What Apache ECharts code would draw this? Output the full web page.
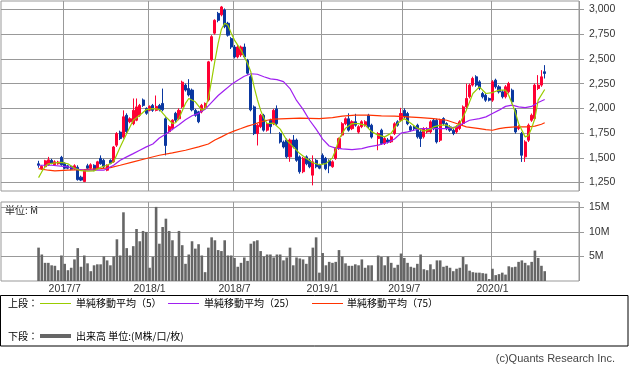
<!DOCTYPE html>
<html><head><meta charset="utf-8">
<script src="https://cdn.jsdelivr.net/npm/echarts@6/dist/echarts.min.js"></script>
<style>html,body{margin:0;padding:0;background:#fff}#c{width:633px;height:373px}</style>
</head><body><div id="c"></div>
<script>
// ---- data (weekly, first week 2017/5/8) ----
const firstWeek = [2017, 5, 8];
const padBefore = 11, padAfter = 10;
const priceTicks = [1250, 1500, 1750, 2000, 2250, 2500, 2750, 3000];
const volumeTicks = [5, 10, 15];
const open = [1440,1390,1410,1430,1475,1430,1440,1505,1445,1420,1415,1390,1405,1305,1260,1420,1395,1425,1395,1495,
1475,1375,1475,1460,1628,1760,1710,1930,1865,1845,1880,1930,2085,2000,1980,2030,1980,2030,2050,1895,
1765,1795,1950,1895,2015,2235,2200,2185,1980,1965,1965,2015,2085,2490,2760,2960,2945,2995,2860,2705,
2620,2520,2540,2620,2485,2320,2015,1745,1815,1930,1780,1880,1845,1995,1745,1660,1680,1510,1680,1680,
1510,1360,1510,1475,1325,1475,1425,1525,1495,1470,1410,1495,1595,1730,1845,1895,1795,1865,1760,1815,
1830,1930,1830,null,1695,1780,1645,1680,1662,1745,1865,1880,1980,1948,1815,1812,1830,1762,1712,1762,
1762,1880,1880,1678,1897,1847,1813,1779,1762,1796,1847,2015,2117,2235,2319,2268,2150,2133,2100,2083,
2285,2218,2167,2117,2167,2184,1982,1796,1746,1510,1678,1880,1897,2201,2235,2370];
const close = [1425,1415,1470,1480,1445,1460,1458,1430,1395,1395,1385,1420,1280,1275,1375,1395,1430,1375,1460,1440,
1410,1425,1445,1610,1745,1695,1915,1765,1895,1980,2015,2030,2030,1950,2020,1980,2020,1985,1985,1625,
1815,1880,1880,1980,2265,2185,2135,1985,1930,1865,2030,2050,2470,2725,2890,2890,3025,2825,2740,2620,
2520,2620,2620,2520,2355,1985,1745,1830,1930,1780,1845,1815,1980,1845,1660,1610,1510,1680,1610,1475,
1360,1495,1440,1410,1460,1410,1395,1445,1390,1420,1460,1595,1695,1845,1895,1780,1865,1830,1815,1865,
1865,1815,1710,null,1745,1645,1695,1660,1712,1845,1830,1948,1915,1845,1780,1795,1712,1695,1796,1796,
1864,1796,1661,1880,1847,1796,1779,1746,1813,1864,2015,2100,2235,2302,2235,2201,2117,2083,2083,2268,
2218,2167,2117,2218,2251,2066,1762,1813,1526,1661,1830,1931,2235,2235,2319,2353];
const low = [1400,1380,1400,1420,1435,1420,1430,1420,1385,1385,1375,1380,1270,1265,1255,1385,1385,1365,1385,1430,
1395,1365,1435,1450,1610,1680,1695,1750,1850,1830,1870,1915,2015,1935,1970,1965,1970,1970,1970,1525,
1750,1780,1860,1880,2000,2170,2120,1970,1915,1850,1950,2000,2070,2475,2745,2870,2930,2810,2725,2600,
2505,2505,2520,2505,2340,1970,1730,1625,1800,1765,1765,1745,1830,1830,1645,1595,1495,1460,1595,1460,
1340,1345,1425,1395,1222,1395,1385,1430,1375,1345,1400,1480,1580,1715,1830,1765,1780,1815,1745,1800,
1815,1800,1695,null,1577,1630,1630,1645,1650,1730,1815,1865,1900,1830,1765,1780,1695,1610,1695,1745,
1745,1780,1645,1660,1830,1780,1762,1729,1746,1780,1830,2000,2100,2220,2218,2184,2100,2066,2070,2066,
2200,2150,2100,2100,2150,2049,1745,1780,1459,1459,1660,1864,1880,2185,2218,2302];
const high = [1470,1425,1480,1510,1490,1475,1470,1520,1455,1430,1425,1435,1425,1320,1385,1440,1445,1435,1470,1525,
1490,1435,1485,1620,1760,1775,1980,1950,1910,2100,2100,2045,2100,2010,2030,2045,2130,2045,2200,1910,
1830,1890,1965,2000,2280,2250,2295,2200,1995,1975,2045,2060,2480,2740,2900,2975,3035,3010,2875,2720,
2640,2640,2635,2655,2500,2335,2030,1845,1945,1945,1860,1895,1995,2030,1760,1675,1695,1695,1730,1695,
1525,1510,1525,1490,1525,1490,1440,1545,1510,1485,1475,1610,1705,1860,1910,1950,1880,1945,1830,1880,
1880,1945,1845,null,1760,1795,1710,1700,1725,1860,1880,2005,2000,1965,1830,1830,1845,1780,1810,1810,
1880,1895,1895,1895,1910,1860,1830,1795,1830,1880,2030,2250,2250,2320,2335,2285,2167,2150,2110,2285,
2300,2235,2184,2235,2268,2200,2000,1830,1762,1678,1847,1948,2251,2336,2386,2437];
const volume = [6.8,5.4,3.7,3.7,3.2,3.1,2.2,5.2,3.5,2.2,2.7,4.4,6.7,2.9,5.2,3.6,2.0,3.2,3.4,3.4,
5.0,4.2,3.2,5.0,8.5,5.2,14.0,6.7,5.2,7.1,10.6,8.1,10.2,10.0,2.7,4.9,15.1,7.6,11.0,12.7,
10.2,8.3,5.0,10.2,7.3,3.5,5.4,8.1,6.6,7.5,5.2,1.8,6.8,8.9,8.3,6.3,6.1,8.3,5.2,5.2,
4.7,2.9,3.7,4.8,4.1,7.6,8.1,8.3,6.1,5.0,5.4,5.4,4.8,5.4,5.4,4.2,4.8,6.8,3.2,4.8,
4.6,4.4,3.5,5.0,6.8,8.9,1.7,5.7,3.2,3.9,3.7,3.9,6.3,5.0,3.6,3.1,3.1,3.4,3.2,4.4,
2.7,3.2,3.2,null,5.2,4.9,3.2,5.0,3.7,2.7,3.3,5.6,4.7,3.7,2.9,2.7,3.5,5.4,2.4,2.2,
3.4,2.4,4.2,4.2,2.9,3.1,2.7,2.0,2.5,2.7,4.9,3.4,2.1,1.8,1.7,1.7,1.6,1.5,0.4,2.5,
1.2,1.4,1.7,1.3,3.0,2.8,2.9,3.9,4.2,3.7,3.2,3.9,6.2,4.7,3.1,2.0];
// moving averages: [week index, value]
const ma5 = [[0,1300],[1,1360],[2,1410],[3,1440],[5,1450],[7,1455],[9,1440],[11,1395],[13,1370],[15,1365],[17,1368],[19,1405],[21,1425],[23,1460],[25,1610],[27,1745],[29,1880],[31,1930],[33,1988],[35,1998],[37,1990],[39,1914],[41,1847],[42,1855],[43,1900],[45,2050],[46,2100],[48,2066],[50,1982],[51,2000],[52,2100],[53,2285],[54,2480],[55,2656],[56,2800],[57,2860],[58,2840],[59,2760],[60,2690],[62,2589],[64,2454],[65,2370],[66,2218],[67,2090],[68,1982],[69,1900],[70,1847],[72,1850],[74,1790],[76,1678],[78,1611],[80,1543],[82,1493],[84,1450],[86,1430],[88,1442],[90,1500],[91,1580],[92,1690],[94,1800],[96,1847],[98,1845],[100,1830],[102,1765],[104,1729],[106,1712],[108,1750],[110,1850],[112,1897],[114,1850],[116,1800],[118,1770],[120,1790],[121,1813],[123,1830],[125,1830],[127,1796],[129,1847],[131,1982],[133,2150],[135,2218],[137,2150],[139,2160],[141,2184],[143,2184],[144,2130],[145,2049],[146,1960],[147,1847],[149,1712],[150,1725],[151,1800],[152,1900],[153,2083],[155,2191]];
const ma25 = [[0,1425],[4,1425],[9,1408],[11,1392],[14,1375],[20,1375],[21,1392],[23,1425],[25,1476],[27,1510],[29,1543],[31,1577],[33,1611],[35,1640],[37,1700],[39,1740],[41,1790],[43,1835],[45,1885],[47,1925],[49,1950],[51,1990],[53,2060],[55,2130],[57,2185],[59,2240],[61,2285],[63,2325],[65,2350],[67,2345],[69,2320],[71,2298],[73,2290],[75,2270],[77,2200],[79,2080],[81,1990],[83,1880],[85,1790],[87,1690],[89,1620],[91,1598],[93,1590],[96,1584],[99,1594],[101,1611],[104,1628],[107,1655],[109,1690],[111,1750],[113,1762],[115,1779],[117,1796],[121,1796],[125,1796],[128,1813],[130,1847],[132,1880],[135,1897],[137,1914],[139,1948],[141,1982],[143,2020],[145,2032],[147,2015],[149,2008],[151,2020],[153,2060],[155,2090]];
const ma75 = [[0,1392],[3,1375],[5,1368],[9,1375],[14,1381],[19,1392],[22,1402],[25,1425],[29,1459],[33,1493],[37,1526],[41,1550],[45,1577],[49,1611],[52,1640],[54,1680],[56,1712],[58,1746],[60,1773],[62,1796],[64,1820],[66,1840],[68,1864],[70,1880],[72,1891],[76,1897],[80,1901],[86,1897],[90,1907],[93,1921],[97,1931],[101,1931],[105,1924],[109,1921],[113,1914],[117,1907],[121,1897],[125,1880],[128,1847],[131,1813],[135,1796],[137,1786],[139,1779],[141,1796],[143,1806],[146,1813],[150,1813],[152,1820],[154,1840],[155,1854]];

// ---- build ----
const N = open.length;
const cats = [];
const t0 = Date.UTC(firstWeek[0], firstWeek[1]-1, firstWeek[2]);
for (let k = -padBefore; k < N + padAfter; k++) {
  const d = new Date(t0 + k*7*86400000);
  cats.push(d.getUTCFullYear()+'/'+(d.getUTCMonth()+1)+'/'+d.getUTCDate());
}
const pad = n => Array(n).fill('-');
const candles = pad(padBefore).concat(open.map((o,k)=> o==null ? '-' : [o, close[k], low[k], high[k]]), pad(padAfter));
const vols = pad(padBefore).concat(volume.map(v => v==null ? '-' : v), pad(padAfter));
const shift = arr => arr.map(p => [p[0]+padBefore, p[1]]);

function halfYear(idx, val) {
  const d = idx - padBefore;
  if (d < 0 || d >= N) return false;
  const p = String(val).split('/');
  const m = +p[1], day = +p[2];
  return (m === 1 || m === 7) && day <= 7;
}
const GRID = '#999999';
const AXFONT = "'Liberation Sans', Arial, sans-serif";
const CJK = "'Noto Sans CJK JP', sans-serif";
const C5 = '#99cc00', C25 = '#a020f0', C75 = '#ff3300', UP = '#ff0033', DOWN = '#0a37a0', VOL = '#666666';

const chart = echarts.init(document.getElementById('c'), null, {renderer: 'canvas'});
const xBase = {
  type: 'category', data: cats, boundaryGap: true,
  axisLine: {show: false}, axisTick: {show: false},
  splitLine: {show: true, interval: halfYear, lineStyle: {color: GRID, width: 1}}
};
chart.setOption({
  animation: false,
  grid: [
    {left: 1, top: 1, width: 578, height: 190, show: true, borderColor: GRID, borderWidth: 1, backgroundColor: '#fff'},
    {left: 1, top: 202, width: 578, height: 79, show: true, borderColor: GRID, borderWidth: 1, backgroundColor: '#fff'}
  ],
  xAxis: [
    Object.assign({}, xBase, {gridIndex: 0, axisLabel: {show: false}}),
    Object.assign({}, xBase, {gridIndex: 1, axisLabel: {show: true, interval: halfYear, margin: 3,
      color: '#333', fontSize: 10.5, fontFamily: AXFONT,
      formatter: v => { const p = v.split('/'); return p[0] + '/' + p[1]; }}})
  ],
  yAxis: [
    {type: 'value', gridIndex: 0, position: 'right', min: 1165, max: 3085, scale: true,
     axisLine: {show: false},
     axisTick: {show: true, customValues: priceTicks, length: 5, lineStyle: {color: GRID}},
     axisLabel: {customValues: priceTicks, margin: 10, color: '#333', fontSize: 10.5, fontFamily: AXFONT,
       formatter: v => v.toLocaleString('en-US')},
     splitLine: {show: true, lineStyle: {color: GRID, width: 1}}},
    {type: 'value', gridIndex: 1, position: 'right', min: 0, max: 16.1, interval: 5,
     axisLine: {show: false},
     axisTick: {show: true, customValues: volumeTicks, length: 5, lineStyle: {color: GRID}},
     axisLabel: {customValues: volumeTicks, margin: 10, color: '#333', fontSize: 10.5, fontFamily: AXFONT,
       formatter: v => v + 'M'},
     splitLine: {show: true, lineStyle: {color: GRID, width: 1}}}
  ],
  series: [
    {type: 'candlestick', xAxisIndex: 0, yAxisIndex: 0, data: candles, barWidth: 2.6,
     itemStyle: {color: UP, color0: DOWN, borderColor: UP, borderColor0: DOWN, borderWidth: 1}},
    {type: 'line', xAxisIndex: 0, yAxisIndex: 0, data: shift(ma75), showSymbol: false, lineStyle: {color: C75, width: 1.2}},
    {type: 'line', xAxisIndex: 0, yAxisIndex: 0, data: shift(ma25), showSymbol: false, lineStyle: {color: C25, width: 1.2}},
    {type: 'line', xAxisIndex: 0, yAxisIndex: 0, data: shift(ma5), showSymbol: false, lineStyle: {color: C5, width: 1.2}},
    {type: 'bar', xAxisIndex: 1, yAxisIndex: 1, data: vols, barWidth: 2.6, itemStyle: {color: VOL}}
  ],
  graphic: [
    {type: 'text', x: 5, y: 210, style: {text: '単位: M', font: '10px ' + CJK, fill: '#222', verticalAlign: 'middle'}},
    {type: 'rect', shape: {x: 0.5, y: 295.5, width: 627.5, height: 50.5}, style: {fill: 'none', stroke: '#000', lineWidth: 1}},
    {type: 'text', x: 8, y: 303.5, style: {text: '上段：', font: '10px ' + CJK, fill: '#000', verticalAlign: 'middle'}},
    {type: 'line', shape: {x1: 40, y1: 303.5, x2: 71, y2: 303.5}, style: {stroke: C5, lineWidth: 1}},
    {type: 'text', x: 76, y: 303.5, style: {text: '単純移動平均（5）', font: '10px ' + CJK, fill: '#000', verticalAlign: 'middle'}},
    {type: 'line', shape: {x1: 168, y1: 303.5, x2: 199, y2: 303.5}, style: {stroke: C25, lineWidth: 1}},
    {type: 'text', x: 204, y: 303.5, style: {text: '単純移動平均（25）', font: '10px ' + CJK, fill: '#000', verticalAlign: 'middle'}},
    {type: 'line', shape: {x1: 312, y1: 303.5, x2: 343, y2: 303.5}, style: {stroke: C75, lineWidth: 1}},
    {type: 'text', x: 347, y: 303.5, style: {text: '単純移動平均（75）', font: '10px ' + CJK, fill: '#000', verticalAlign: 'middle'}},
    {type: 'text', x: 8, y: 336, style: {text: '下段：', font: '10px ' + CJK, fill: '#000', verticalAlign: 'middle'}},
    {type: 'line', shape: {x1: 40, y1: 336, x2: 71, y2: 336}, style: {stroke: VOL, lineWidth: 4}},
    {type: 'text', x: 76, y: 336, style: {text: '出来高 単位:(M株/口/枚)', font: '10px ' + CJK, fill: '#000', verticalAlign: 'middle'}},
    {type: 'text', x: 615, y: 359, style: {text: '(c)Quants Research Inc.', font: '11px ' + AXFONT, fill: '#444', align: 'right', verticalAlign: 'middle'}}
  ]
});
</script></body></html>
